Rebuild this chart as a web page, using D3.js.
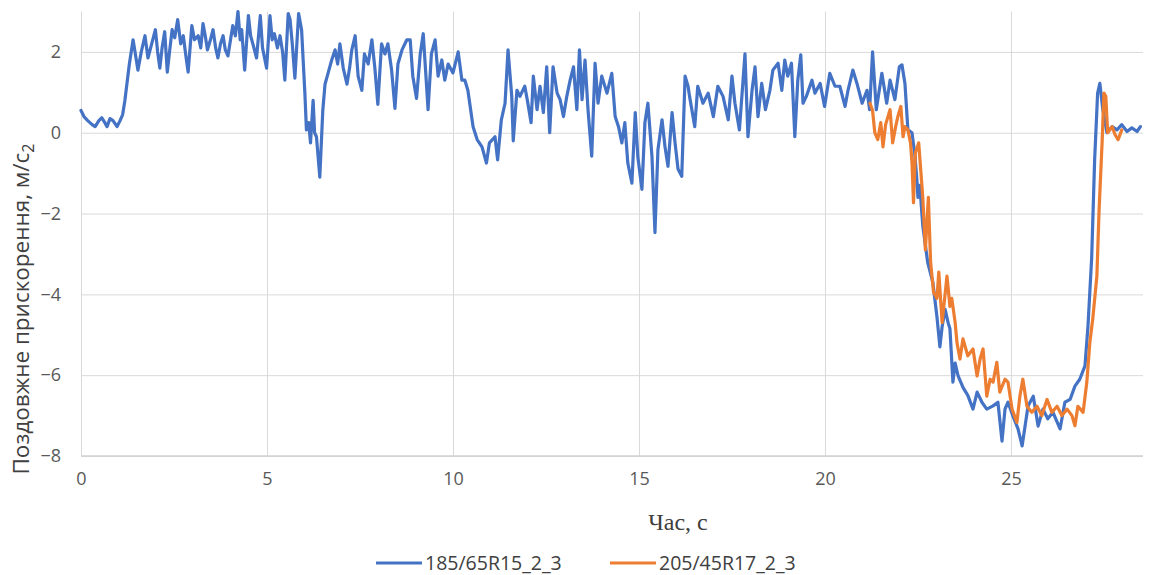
<!DOCTYPE html>
<html>
<head>
<meta charset="utf-8">
<script src="https://cdn.jsdelivr.net/npm/d3@7"></script>
<style>
  html, body { margin: 0; padding: 0; background: #fff; }
  svg { display: block; }
</style>
</head>
<body>
<svg id="chart" width="1152" height="575"></svg>
<script>
// Longitudinal acceleration recordings, time in seconds, acceleration in m/s²
const time185 = [0.00,0.08,0.18,0.30,0.38,0.48,0.56,0.64,0.70,0.78,0.86,0.97,1.05,1.12,1.18,1.30,1.40,
  1.53,1.62,1.72,1.80,1.90,2.00,2.06,2.12,2.18,2.25,2.32,2.38,2.45,2.52,2.60,2.68,2.75,2.82,2.88,2.98,3.05,3.15,3.22,3.28,3.34,3.40,3.48,3.55,3.62,3.68,3.75,3.82,3.88,3.95,4.02,4.08,4.15,4.22,4.28,4.32,4.40,4.50,4.56,4.62,4.72,4.82,4.88,4.99,5.08,5.14,5.20,5.28,5.35,5.42,5.48,5.57,5.62,5.68,5.75,5.85,5.93,
  6.02,6.06,6.12,6.17,6.24,6.28,6.33,6.42,6.50,6.56,6.65,6.74,6.83,6.90,6.96,7.05,7.15,7.22,7.28,7.37,7.45,7.55,7.62,7.72,7.82,7.90,7.98,8.08,8.17,8.25,8.35,8.44,8.52,8.63,8.76,8.85,8.92,9.02,9.12,9.20,9.28,9.33,9.42,9.52,9.60,9.70,9.78,9.87,10.00,10.14,10.24,10.32,10.40,
  10.54,10.65,10.78,10.90,10.98,11.13,11.20,11.30,11.40,11.48,11.58,11.62,11.72,11.80,11.93,12.00,12.10,12.16,12.26,12.34,12.43,12.52,12.60,12.69,12.80,12.88,12.97,13.06,13.15,13.24,13.33,13.40,13.47,13.55,13.63,13.73,13.82,13.90,14.00,14.14,14.27,14.36,
  14.45,14.54,14.62,14.70,14.81,14.90,14.97,15.08,15.16,15.24,15.35,15.43,15.51,15.62,15.70,15.78,15.89,15.97,16.05,16.15,16.24,16.32,16.36,16.50,16.58,16.72,16.86,17.00,17.12,17.26,17.40,17.50,17.58,17.70,17.85,17.93,18.04,18.12,18.20,18.30,18.40,18.52,18.60,18.74,18.84,18.92,19.00,19.10,19.19,19.27,19.35,19.41,19.50,19.65,19.73,19.87,19.99,
  20.13,20.27,20.40,20.54,20.62,20.75,20.86,21.00,21.13,21.20,21.28,21.38,21.53,21.66,21.75,21.88,22.00,22.07,22.15,22.23,22.34,22.42,22.47,22.50,22.55,22.63,22.76,22.90,23.01,23.09,23.15,23.23,23.31,23.36,23.44,23.50,23.58,23.71,23.84,23.98,24.09,24.22,24.35,24.52,24.65,24.76,24.84,24.92,25.05,25.19,25.30,25.38,25.46,25.60,25.73,25.86,25.99,26.13,26.32,26.45,26.59,26.72,26.85,26.99,
  27.07,27.17,27.25,27.33,27.39,27.47,27.58,27.72,27.85,27.98,28.12,28.25,28.39,28.48];
const accel185 = [0.55,0.4,0.3,0.2,0.15,0.3,0.37,0.25,0.15,0.35,0.3,0.15,0.3,0.45,0.8,1.7,2.3,
  1.55,2.0,2.4,1.85,2.2,2.55,2.0,1.6,2.1,2.5,1.5,2.0,2.55,2.35,2.8,2.2,2.4,1.9,1.5,2.65,2.3,2.4,2.1,2.7,2.4,2.05,2.3,2.55,2.1,1.85,2.2,2.4,2.05,1.9,2.3,2.65,2.4,3.0,2.3,2.55,1.55,2.9,2.4,2.2,1.85,2.9,2.1,1.6,2.9,2.3,2.45,2.1,2.4,2.0,1.3,2.95,2.8,2.2,1.35,2.95,2.55,
  0.95,0.07,0.25,-0.25,0.8,0.0,-0.1,-1.1,0.55,1.2,1.5,1.8,2.05,1.7,2.2,1.6,1.2,1.6,2.05,2.4,1.4,1.05,1.95,1.7,2.3,1.6,0.7,2.2,1.95,2.2,1.55,0.6,1.7,2.05,2.3,2.3,1.4,0.85,1.95,2.45,1.3,0.57,1.95,2.3,1.4,1.8,1.3,1.7,1.48,2.0,1.3,1.3,1.05,
  0.15,-0.17,-0.35,-0.75,-0.25,-0.1,-0.67,0.32,0.73,2.05,0.9,-0.2,1.05,0.9,1.15,0.8,0.25,1.4,0.57,1.15,0.5,1.63,0.0,1.63,0.98,0.82,0.4,0.9,1.3,1.63,0.57,2.05,0.82,1.8,0.57,-0.58,1.72,0.73,1.4,0.98,1.47,0.4,
  0.15,-0.25,0.25,-0.75,-1.25,0.5,-0.6,-1.4,0.25,0.73,-0.6,-2.47,-0.42,0.32,-0.35,-0.83,0.5,-0.25,-0.9,-1.08,1.4,1.15,0.9,0.15,1.15,0.73,0.98,0.4,1.15,0.9,0.32,1.4,0.73,0.07,1.95,-0.1,1.05,1.63,0.4,1.22,0.57,1.05,1.55,1.72,1.05,1.8,1.4,1.72,-0.1,1.3,1.93,0.73,0.9,1.3,0.98,1.22,0.65,
  1.47,1.15,1.15,0.65,1.05,1.55,1.22,0.73,1.05,0.57,2.0,0.57,1.47,0.73,1.3,0.82,1.63,1.68,1.22,0.07,0.0,-0.58,-1.15,-1.6,-1.3,-2.3,-3.2,-3.7,-4.55,-5.3,-4.8,-4.37,-4.7,-4.85,-6.17,-5.7,-6.02,-6.3,-6.5,-6.84,-6.42,-6.67,-6.84,-6.76,-6.67,-7.63,-6.84,-6.67,-7.0,-7.33,-7.75,-7.26,-6.76,-6.52,-7.26,-6.84,-7.08,-6.92,-7.33,-6.67,-6.6,-6.27,-6.1,-5.77,
  -4.8,-3.1,-0.67,0.98,1.22,0.57,0.0,0.15,0.07,0.2,0.03,0.12,0.03,0.15];

const time205 = [21.21,21.28,21.34,21.42,21.50,21.56,21.63,21.75,21.82,21.90,21.96,22.04,22.10,22.15,22.23,22.30,22.34,22.38,22.43,22.52,22.63,22.70,22.78,22.84,22.92,23.01,23.06,23.15,23.28,23.36,23.41,23.50,23.55,23.63,23.71,23.84,23.98,24.09,24.17,24.25,24.35,24.44,24.52,24.62,24.70,24.84,24.92,25.03,25.16,25.24,25.32,25.43,25.56,25.70,25.83,25.97,26.10,26.24,26.37,26.51,26.64,26.72,26.80,26.94,27.04,27.12,27.20,27.31,27.37,27.45,27.50,27.55,27.60,27.72,27.80,27.88,27.98];
const accel205 = [0.73,0.55,0.0,-0.17,0.25,-0.35,0.2,0.57,-0.25,0.15,0.4,0.65,-0.1,0.15,0.07,-0.25,-0.75,-1.73,-0.5,-0.25,-1.6,-2.9,-1.6,-3.2,-3.95,-4.1,-3.45,-4.7,-3.55,-4.3,-4.1,-4.7,-5.2,-5.6,-5.1,-5.52,-5.35,-6.02,-5.6,-5.35,-6.52,-6.1,-6.17,-5.68,-6.42,-6.1,-6.17,-6.84,-7.17,-6.52,-6.1,-6.77,-6.92,-6.77,-7.0,-6.6,-6.92,-6.77,-7.0,-6.84,-7.0,-7.25,-6.77,-6.92,-6.17,-5.2,-4.6,-3.55,-1.9,-0.25,0.98,0.9,0.0,0.15,-0.05,-0.17,0.07];

const seriesNames = ["185/65R15_2_3", "205/45R17_2_3"];
const seriesColors = ["#4472C4", "#ED7D31"];
const xTicks = [0, 5, 10, 15, 20, 25];
const yTicks = [-8, -6, -4, -2, 0, 2];
const xTitle = "Час, с";
const yTitle = "Поздовжне прискорення, м/с";

const svg = d3.select("#chart");
const plot = { left: 81, right: 1143, top: 11.5, bottom: 456 };

const x = d3.scaleLinear().domain([0, 28.55]).range([plot.left, plot.right]);
const y = d3.scaleLinear().domain([-8, 3]).range([plot.bottom, plot.top]);

// Gridlines and tick labels
const gx = svg.append("g")
  .attr("transform", `translate(0,${plot.bottom})`)
  .call(d3.axisBottom(x).tickValues(xTicks).tickSize(-(plot.bottom - plot.top)).tickFormat(d3.format("d")).tickPadding(16));
gx.select(".domain").remove();
gx.selectAll(".tick line").attr("stroke", "#d9d9d9").attr("stroke-width", 1);
gx.selectAll(".tick text").attr("fill", "#595959").style("font-family", "'Open Sans', sans-serif").style("font-size", "18px");

const gy = svg.append("g")
  .attr("transform", `translate(${plot.left},0)`)
  .call(d3.axisLeft(y).tickValues(yTicks).tickSize(-(plot.right - plot.left)).tickFormat(d3.format("d")).tickPadding(20));
gy.select(".domain").remove();
gy.selectAll(".tick line").attr("stroke", "#d9d9d9").attr("stroke-width", 1);
gy.selectAll(".tick text").attr("fill", "#595959").style("font-family", "'Open Sans', sans-serif").style("font-size", "18px");

// Category axis baseline
svg.append("line")
  .attr("x1", plot.left).attr("x2", plot.right)
  .attr("y1", plot.bottom).attr("y2", plot.bottom)
  .attr("stroke", "#d0d0d0").attr("stroke-width", 1.5);

// Series lines
const line = d3.line()
  .x(d => x(d[0]))
  .y(d => y(d[1]))
  .curve(d3.curveLinear);

const series = [
  d3.zip(time185, accel185),
  d3.zip(time205, accel205)
];

series.forEach((pts, i) => {
  svg.append("path")
    .datum(pts)
    .attr("fill", "none")
    .attr("stroke", seriesColors[i])
    .attr("stroke-width", 3.2)
    .attr("stroke-linejoin", "round")
    .attr("stroke-linecap", "round")
    .attr("d", line);
});

// Axis titles
svg.append("text")
  .attr("x", 678).attr("y", 530)
  .attr("text-anchor", "middle")
  .attr("fill", "#404040")
  .style("font-family", "'Liberation Serif', serif")
  .style("font-size", "24px")
  .text(xTitle);

const yt = svg.append("text")
  .attr("transform", `translate(29,309) rotate(-90)`)
  .attr("text-anchor", "middle")
  .attr("fill", "#404040")
  .style("font-family", "'Open Sans', sans-serif")
  .style("font-size", "22.5px");
yt.append("tspan").text(yTitle);
yt.append("tspan").attr("dy", 5).style("font-size", "16px").text("2");

// Legend
const legend = svg.append("g");
const legendItems = [{ x0: 376, name: seriesNames[0], color: seriesColors[0] },
                     { x0: 610, name: seriesNames[1], color: seriesColors[1] }];
legendItems.forEach(it => {
  legend.append("line")
    .attr("x1", it.x0).attr("x2", it.x0 + 46)
    .attr("y1", 563).attr("y2", 563)
    .attr("stroke", it.color).attr("stroke-width", 3);
  legend.append("text")
    .attr("x", it.x0 + 49).attr("y", 570)
    .attr("fill", "#404040")
    .style("font-family", "'Open Sans', sans-serif")
    .style("font-size", "19.5px")
    .text(it.name);
});
</script>
</body>
</html>
